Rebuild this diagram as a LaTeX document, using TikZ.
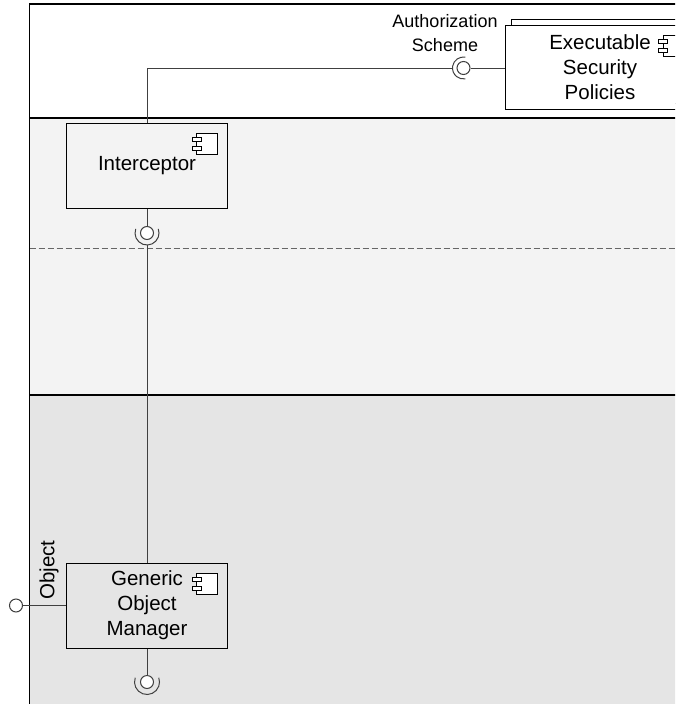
\documentclass[tikz,border=0pt]{standalone}
\usepackage{fontspec}
\setmainfont{Liberation Sans}
\usetikzlibrary{positioning}

\definecolor{layerlight}{HTML}{F3F3F3}
\definecolor{layerdark}{HTML}{E5E5E5}
\definecolor{linegray}{HTML}{404040}

\begin{document}
\begin{tikzpicture}[x=1pt, y=1pt,
        line width=1pt,
        on grid,
        comp/.style={draw=black, minimum width=161pt, minimum height=85pt, inner sep=0pt,
          align=center, font=\fontsize{20.5}{25}\selectfont},
        ball/.style={circle, draw=linegray, fill=white, minimum size=13pt, inner sep=0pt},
        wire/.style={draw=linegray},
        layerline/.style={line width=1.6pt},
        compicon/.pic={
          \draw[fill=white, line width=0.9pt] (-10.5,-10.5) rectangle (10.5,10.5);
          \draw[fill=white, line width=0.9pt] (-15,2.5) rectangle (-6,6.5);
          \draw[fill=white, line width=0.9pt] (-15,-6.5) rectangle (-6,-2.5);
        }]

      \useasboundingbox (0,0) rectangle (675,-704);
      \clip (0,0) rectangle (675,-704);

      % layers
      \fill[layerlight] (29.5,-118) rectangle (690,-395);
      \fill[layerdark] (29.5,-395) rectangle (690,-720);
      \draw[linegray!80, dash pattern=on 6pt off 3pt] (29.5,-248) -- (690,-248);
      \draw[layerline] (690,-4) -- (29.5,-4) -- (29.5,-720);
      \draw[layerline] (29.5,-118) -- (690,-118);
      \draw[layerline] (29.5,-395) -- (690,-395);

      % components
      \node[comp, fill=white, minimum width=190pt, minimum height=84pt] (policies_back) at (606,-61) {};
      \node[comp, fill=white, minimum width=190pt, minimum height=84pt] (policies) at (600,-67)
        {Executable\\Security\\Policies};
      \node[comp] (interceptor) at (147,-165.5) {Interceptor};
      \node[comp] (gom) [below=440pt of interceptor] {Generic\\Object\\Manager};

      \pic at ([shift={(-22,-21)}]policies.north east) {compicon};
      \pic at ([shift={(-21,-21)}]interceptor.north east) {compicon};
      \pic at ([shift={(-21,-21.5)}]gom.north east) {compicon};

      % interfaces
      \node[ball] (auth_ball) at (463.5,-68) {};
      \node[ball] (int_ball) [below=67.5pt of interceptor] {};
      \node[ball] (gom_ball) [below=76.5pt of gom] {};
      \node[ball] (obj_ball) at (16,-605.5) {};

      \coordinate (auth_sock) at ([xshift=-11pt]auth_ball.center);
      \coordinate (int_sock) at ([yshift=-12pt]int_ball.center);

      \node[font=\fontsize{18}{24}\selectfont, align=center] (auth_label) at (445,-33)
        {Authorization\\Scheme};
      \node[rotate=90, font=\fontsize{20.5}{25}\selectfont] (obj_label) at (49,-570) {Object};

      % sockets
      \draw[wire] ([shift={(80:11)}]auth_ball.center) arc[start angle=80, end angle=280, radius=11];
      \draw[wire] ([shift={(160:12)}]int_ball.center) arc[start angle=160, end angle=380, radius=12];
      \draw[wire] ([shift={(160:12.5)}]gom_ball.center) arc[start angle=160, end angle=380, radius=12.5];

      % connectors
      \path[wire]
        (interceptor.north) |- (auth_sock)
        (auth_ball) -- (auth_ball -| policies.west)
        (interceptor.south) -- (int_ball)
        (int_sock) -- (gom.north)
        (gom.south) -- (gom_ball)
        (obj_ball) -- (obj_ball -| gom.west);

\end{tikzpicture}
\end{document}
